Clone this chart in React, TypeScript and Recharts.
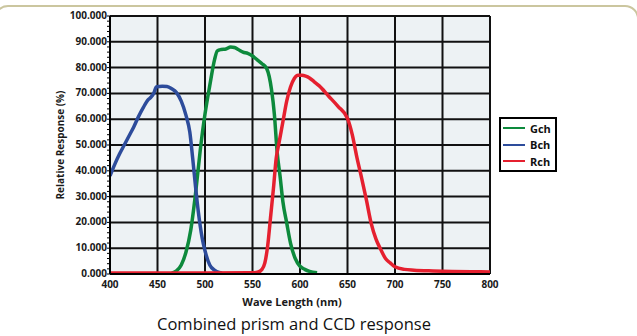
import { CartesianGrid, Legend, Line, LineChart, XAxis, YAxis } from 'recharts';

// Wave length (nm) / relative response (%) per channel
const bchWave = [400, 405, 410, 415, 420, 425, 430, 435, 440, 443, 446, 449, 455, 460, 465, 470, 475, 480, 484, 487, 490, 493, 497, 500, 505, 510, 515, 518];
const bchResp = [38, 42.5, 46.5, 50, 53.5, 57, 61, 64.5, 67.5, 68.5, 70, 72.6, 72.8, 72.7, 71.8, 70.3, 67, 61.5, 55, 45, 34, 24, 14, 9, 3.5, 1.5, 0.6, 0.4];

const gchWave = [465, 470, 475, 480, 485, 490, 495, 500, 505, 510, 513, 517, 522, 527, 531, 535, 540, 545, 550, 555, 560, 565, 570, 573, 576, 579, 582, 586, 590, 595, 600, 605, 610, 618];
const gchResp = [0.3, 1.2, 3.5, 8.5, 17, 31, 48, 62, 73, 83, 86.5, 87, 87.2, 88, 87.8, 87, 86, 85.5, 84.5, 83, 81.5, 79.6, 71.5, 62, 47, 38, 28, 19.8, 12, 6, 3, 1.8, 1, 0.5];

const rchWave = [400, 450, 500, 550, 556, 560, 563, 566, 569, 572, 575, 578, 582, 586, 590, 594, 598, 602, 606, 610, 615, 620, 630, 640, 650, 655, 660, 665, 670, 675, 680, 685, 690, 695, 700, 710, 720, 740, 760, 780, 800];
const rchResp = [0.4, 0.4, 0.4, 0.5, 0.8, 1.8, 4.3, 11, 22, 33, 45, 51, 59, 67, 72.5, 75.8, 77, 77, 76.7, 76, 74.5, 73, 69, 65, 60.3, 54, 45, 37, 28.5, 19.5, 13.5, 9.5, 6, 4.3, 2.8, 1.8, 1.5, 1.2, 1, 0.9, 0.8];

const xTicks = [400, 450, 500, 550, 600, 650, 700, 750, 800];
const yTicks = [0, 10, 20, 30, 40, 50, 60, 70, 80, 90, 100];
// minor tick marks every 2 %, labels only on the tens
const yMinorTicks = Array.from({ length: 51 }, (_, i) => i * 2);

const toPoints = (wave: number[], resp: number[]) => wave.map((x, i) => ({ x, y: resp[i] }));

const series = [
  { name: 'Gch', color: '#0d8a3c', data: toPoints(gchWave, gchResp) },
  { name: 'Bch', color: '#2d4c9b', data: toPoints(bchWave, bchResp) },
  { name: 'Rch', color: '#e5202f', data: toPoints(rchWave, rchResp) },
];

const FONT = '"Open Sans", "DejaVu Sans", sans-serif';
const tickStyle = { fontSize: 10, fontWeight: 700, fill: '#1a1a1a', fontFamily: FONT };

const YTick = (props: any) => {
  const { x, y, payload } = props;
  if (payload.value % 10 !== 0) return <g />;
  return (
    <text x={x} y={y} dy="0.3em" textAnchor="end" style={tickStyle}>
      {payload.value.toFixed(3)}
    </text>
  );
};

const LegendBox = () => (
  <div
    style={{
      border: '2px solid #000',
      background: '#fff',
      padding: '1px 4px 0 2px',
      fontFamily: FONT,
      fontSize: 11,
      fontWeight: 700,
      color: '#111',
    }}
  >
    {series.map((s) => (
      <div key={s.name} style={{ display: 'flex', alignItems: 'center', height: 16.5 }}>
        <span style={{ display: 'inline-block', width: 22, height: 2, background: s.color, marginRight: 5 }} />
        {s.name}
      </div>
    ))}
  </div>
);

export default function App() {
  return (
    <div style={{ position: 'absolute', left: 0, top: 0, width: 637, height: 336, overflow: 'hidden', background: '#fff' }}>
      <div
        style={{
          position: 'absolute',
          left: -6,
          top: 5,
          width: 645,
          height: 400,
          border: '2px solid #cbc69f',
          borderRadius: 14,
          boxSizing: 'border-box',
        }}
      />
      <LineChart width={637} height={336} margin={{ top: 16, right: 147, bottom: 22, left: 0 }}>
        <CartesianGrid
          yAxisId="left"
          fill="#edf2f4"
          stroke="#111"
          strokeWidth={2}
          horizontalValues={yTicks}
          verticalValues={xTicks}
        />
        <XAxis
          dataKey="x"
          type="number"
          domain={[400, 800]}
          ticks={xTicks}
          allowDataOverflow
          height={40}
          tickLine={false}
          tickSize={5}
          tickMargin={2}
          axisLine={{ stroke: '#000', strokeWidth: 2 }}
          tick={tickStyle}
          label={{
            value: 'Wave Length (nm)',
            position: 'insideBottom',
            offset: 8,
            dx: -8,
            style: { ...tickStyle, fontSize: 11 },
          }}
        />
        <YAxis
          yAxisId="left"
          type="number"
          domain={[0, 100]}
          ticks={yMinorTicks}
          interval={0}
          width={110}
          tickSize={3}
          tickMargin={0}
          tickLine={{ stroke: '#000', strokeWidth: 1 }}
          axisLine={{ stroke: '#000', strokeWidth: 2 }}
          tick={<YTick />}
          label={{
            value: 'Relative Response (%)',
            angle: -90,
            position: 'center',
            dx: 5,
            style: { ...tickStyle, fontSize: 10, textAnchor: 'middle' },
          }}
        />
        <Legend
          layout="vertical"
          align="center"
          verticalAlign="middle"
          wrapperStyle={{ left: 499, top: 117, width: 'auto' }}
          content={() => <LegendBox />}
        />
        {series.map((s) => (
          <Line
            key={s.name}
            yAxisId="left"
            data={s.data}
            dataKey="y"
            name={s.name}
            type="monotone"
            stroke={s.color}
            strokeWidth={3.5}
            dot={false}
            activeDot={false}
            isAnimationActive={false}
          />
        ))}
      </LineChart>
      <div
        style={{
          position: 'absolute',
          left: 0,
          top: 314,
          width: 588,
          textAlign: 'center',
          fontFamily: FONT,
          fontSize: 16.5,
          color: '#111',
          lineHeight: '20px',
        }}
      >
        Combined prism and CCD response
      </div>
    </div>
  );
}
